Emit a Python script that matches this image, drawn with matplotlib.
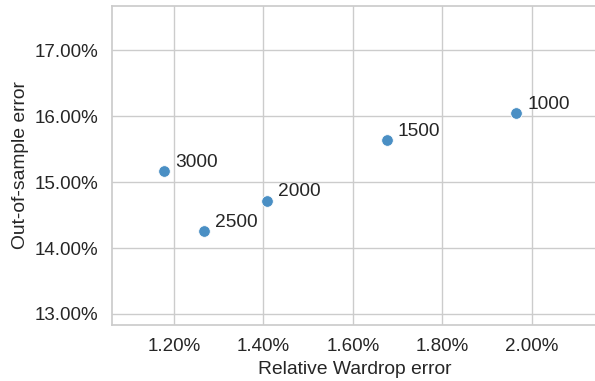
import matplotlib
matplotlib.use("Agg")
import matplotlib.pyplot as plt
import matplotlib.ticker as mtick
import seaborn as sns

# relative Wardrop error (%) vs out-of-sample error (%), labelled by sample size
wardrop_err = [1.966, 1.676, 1.408, 1.268, 1.178]
oos_err = [16.05, 15.64, 14.72, 14.26, 15.17]
labels = ["1000", "1500", "2000", "2500", "3000"]

sns.set_theme(style="whitegrid")
plt.rcParams['font.family'] = ['Liberation Sans', 'DejaVu Sans']

fig = plt.figure(figsize=(5.95, 3.81), dpi=100)
ax = fig.add_axes([0.188, 0.147, 0.815, 0.837])

ax.scatter(wardrop_err, oos_err, s=70, color="#4a8fc4",
           edgecolor="white", linewidth=0.6, zorder=3)
for x, y, lab in zip(wardrop_err, oos_err, labels):
    ax.annotate(lab, (x, y), xytext=(8, 3), textcoords="offset points",
                fontsize=13.8, color="#262626")

ax.set_xlim(1.061, 2.146)
ax.set_ylim(12.833, 17.667)
ax.set_xticks([1.2, 1.4, 1.6, 1.8, 2.0])
ax.set_yticks([13, 14, 15, 16, 17])
ax.xaxis.set_major_formatter(mtick.FormatStrFormatter('%.2f%%'))
ax.yaxis.set_major_formatter(mtick.FormatStrFormatter('%.2f%%'))
ax.tick_params(labelsize=13.5, colors="#262626")
ax.set_xlabel("Relative Wardrop error", fontsize=13.9, color="#262626")
ax.set_ylabel("Out-of-sample error", fontsize=13.9, color="#262626")
ax.spines['right'].set_visible(False)

fig.savefig("out.png", dpi=100)
